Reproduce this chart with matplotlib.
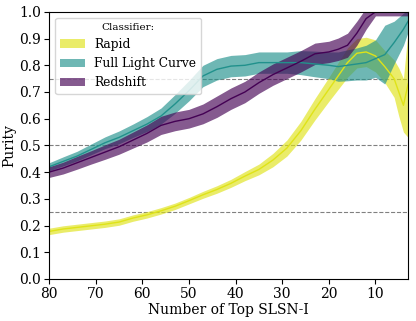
import matplotlib
matplotlib.use('Agg')
import matplotlib.pyplot as plt
import numpy as np

# number of top-ranked SLSN-I considered
n_top = [80, 77, 74, 71, 68, 65, 62, 59, 56, 53, 50, 47, 44, 41, 38, 35,
         32, 29, 26, 23, 20, 18, 16, 14, 12, 10, 8, 6, 5, 4, 3]

# Rapid classifier purity and half-width of band
rapid = [0.178, 0.187, 0.193, 0.199, 0.205, 0.213, 0.228, 0.240, 0.255, 0.272,
         0.293, 0.315, 0.335, 0.358, 0.385, 0.410, 0.445, 0.490, 0.555, 0.635,
         0.710, 0.760, 0.810, 0.845, 0.850, 0.835, 0.795, 0.750, 0.700, 0.650, 0.730]
rapid_err = [0.012, 0.012, 0.012, 0.012, 0.012, 0.012, 0.012, 0.012, 0.012, 0.012,
             0.012, 0.013, 0.014, 0.015, 0.017, 0.020, 0.025, 0.030, 0.035, 0.040,
             0.045, 0.050, 0.055, 0.055, 0.055, 0.060, 0.060, 0.070, 0.090, 0.100, 0.200]

# Full light curve classifier
full_lc = [0.420, 0.440, 0.460, 0.485, 0.510, 0.530, 0.555, 0.580, 0.610, 0.655,
           0.705, 0.760, 0.785, 0.797, 0.800, 0.810, 0.810, 0.810, 0.810, 0.805,
           0.800, 0.795, 0.800, 0.805, 0.810, 0.825, 0.840, 0.885, 0.910, 0.935, 0.965]
full_lc_err = [0.015, 0.017, 0.018, 0.020, 0.022, 0.024, 0.025, 0.028, 0.030, 0.035,
               0.038, 0.040, 0.040, 0.040, 0.040, 0.040, 0.040, 0.040, 0.045, 0.048,
               0.050, 0.055, 0.058, 0.060, 0.065, 0.070, 0.110, 0.080, 0.070, 0.060, 0.040]

# Redshift classifier
redshift = [0.400, 0.415, 0.435, 0.455, 0.475, 0.495, 0.520, 0.545, 0.575, 0.590,
            0.600, 0.618, 0.645, 0.675, 0.700, 0.735, 0.765, 0.790, 0.815, 0.843,
            0.850, 0.860, 0.875, 0.920, 0.975, 1.000, 1.000, 1.000, 1.000, 1.000, 1.000]
redshift_err = [0.020, 0.022, 0.024, 0.025, 0.027, 0.028, 0.030, 0.032, 0.034, 0.035,
                0.035, 0.037, 0.040, 0.040, 0.040, 0.040, 0.040, 0.040, 0.040, 0.040,
                0.040, 0.042, 0.045, 0.045, 0.040, 0.015, 0.015, 0.015, 0.015, 0.015, 0.015]

plt.rcParams['font.family'] = 'DejaVu Serif'
plt.rcParams['font.size'] = 10

fig = plt.figure(figsize=(4.16, 3.21), dpi=100)
ax = fig.add_axes([0.118, 0.131, 0.863, 0.832])

cmap = plt.get_cmap('viridis')
series = [('Rapid', rapid, rapid_err, cmap(0.95)),
          ('Full Light Curve', full_lc, full_lc_err, cmap(0.5)),
          ('Redshift', redshift, redshift_err, cmap(0.0))]

for y0 in [0.25, 0.5, 0.75]:
    ax.axhline(y0, color='grey', ls='--', lw=0.8, zorder=0)

x = np.array(n_top)
for name, vals, err, col in series:
    vals = np.array(vals)
    err = np.array(err)
    ax.fill_between(x, vals - err, vals + err, color=col, alpha=0.65, lw=0, label=name)
    ax.plot(x, vals, color=col, lw=1.0)

ax.set_xlim(80, 3)
ax.set_ylim(0, 1)
ax.set_yticks(np.arange(0, 1.01, 0.1))
ax.tick_params(labelsize=10, pad=2.5)
ax.set_xlabel('Number of Top SLSN-I', fontsize=10, labelpad=1)
ax.set_ylabel('Purity', fontsize=10, labelpad=2)

leg = ax.legend(loc='upper left', title='Classifier:', fontsize=8.8, title_fontsize=7.5)

fig.savefig('out.png', dpi=100)
